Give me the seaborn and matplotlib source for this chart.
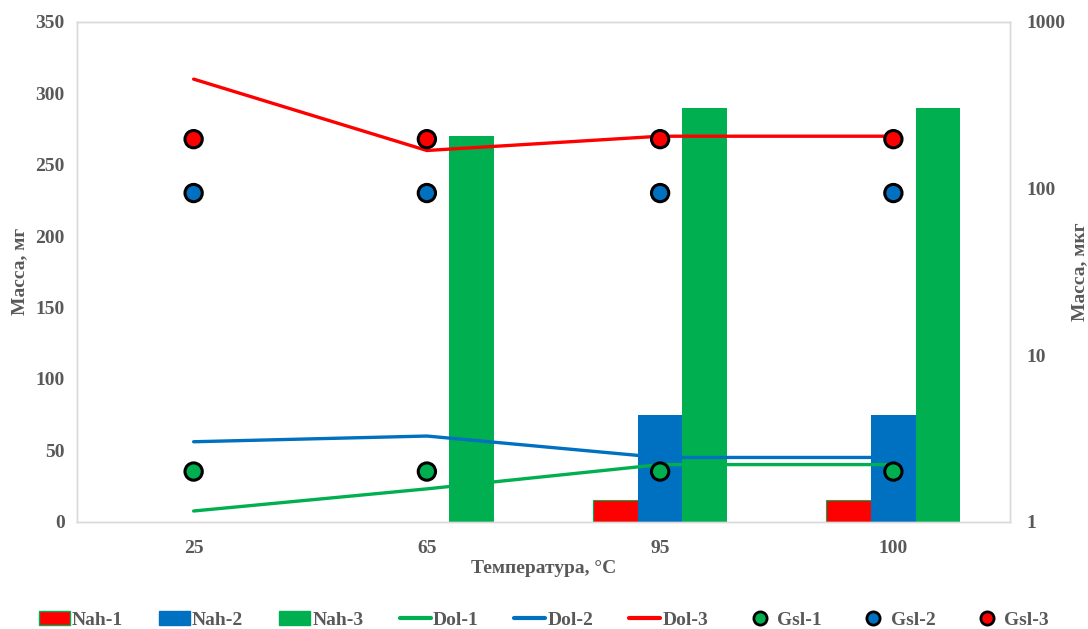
import numpy as np
import pandas as pd
import matplotlib
matplotlib.use("Agg")
import matplotlib.pyplot as plt
from matplotlib.patches import Patch
from matplotlib.lines import Line2D
import seaborn as sns

# ---- data ----
temps = ["25", "65", "95", "100"]
nah1 = [np.nan, np.nan, 15, 15]
nah2 = [np.nan, np.nan, 75, 75]
nah3 = [np.nan, 270, 290, 290]
dol1 = [7.5, 23, 40, 40]
dol2 = [56, 60, 45, 45]
dol3 = [310, 260, 270, 270]
gsl1 = [2, 2, 2, 2]
gsl2 = [94, 94, 94, 94]
gsl3 = [198, 198, 198, 198]

bar_names = ["Nah-1", "Nah-2", "Nah-3"]
line_names = ["Dol-1", "Dol-2", "Dol-3"]
pt_names = ["Gsl-1", "Gsl-2", "Gsl-3"]
colors = ["#00B050", "#0070C0", "#FF0000"]  # green, blue, red
bar_colors = ["#FF0000", "#0070C0", "#00B050"]

GRAY = "#595959"
SPINE = "#D9D9D9"
FS = 14

sns.set_style("white")
plt.rcParams["font.family"] = ["Liberation Serif", "DejaVu Serif"]
plt.rcParams["font.weight"] = "bold"

pos = np.arange(len(temps))
bars = pd.DataFrame({
    "T": temps * 3,
    "series": [n for n in bar_names for _ in temps],
    "val": nah1 + nah2 + nah3,
}).dropna()
lines = pd.DataFrame({
    "x": list(pos) * 3,
    "series": [n for n in line_names for _ in temps],
    "val": dol1 + dol2 + dol3,
})
pts = pd.DataFrame({
    "x": list(pos) * 3,
    "series": [n for n in pt_names for _ in temps],
    "val": gsl1 + gsl2 + gsl3,
})

fig = plt.figure(figsize=(10.88, 6.29), dpi=100)
ax = fig.add_axes([77 / 1088, 1 - 521.7 / 629, (1010 - 77) / 1088, (521.7 - 22) / 629])

sns.barplot(data=bars, x="T", y="val", hue="series", order=temps, hue_order=bar_names,
            palette=bar_colors, width=0.575, gap=0, ax=ax, legend=False,
            saturation=1, linewidth=0, zorder=2)
# green edge of Nah-1 bars
for p in ax.patches:
    if np.isclose(p.get_height(), 15):
        p.set_edgecolor("#00B050")
        p.set_linewidth(0.8)

sns.lineplot(data=lines, x="x", y="val", hue="series", hue_order=line_names,
             palette=colors, linewidth=2.4, ax=ax, legend=False, zorder=3)

ax.set_xlim(-0.5, len(temps) - 0.5)
ax.set_ylim(0, 350)
ax.set_yticks(np.arange(0, 351, 50))
ax.set_xticks(pos)
ax.set_xticklabels(temps)
ax.tick_params(axis="x", length=0, labelsize=FS, labelcolor=GRAY, pad=13)
ax.tick_params(axis="y", length=0, labelsize=FS, labelcolor=GRAY, pad=9)
for lab in ax.get_xticklabels() + ax.get_yticklabels():
    lab.set_fontweight("bold")
ax.set_xlabel("Температура, °C", fontsize=FS, color=GRAY, fontweight="bold", labelpad=2)
ax.set_ylabel("Масса, мг", fontsize=FS, color=GRAY, fontweight="bold", labelpad=5)
for s in ax.spines.values():
    s.set_color(SPINE)
    s.set_linewidth(1)

ax2 = ax.twinx()
sns.scatterplot(data=pts, x="x", y="val", hue="series", hue_order=pt_names,
                palette=colors, s=155, edgecolor="black", linewidth=2.2,
                ax=ax2, legend=False, zorder=4)
ax2.set_yscale("log")
ax2.set_ylim(1, 1000)
ax2.set_yticks([1, 10, 100, 1000])
ax2.set_yticklabels(["1", "10", "100", "1000"])
ax2.minorticks_off()
ax2.tick_params(axis="y", length=0, labelsize=FS, labelcolor=GRAY, pad=12)
for lab in ax2.get_yticklabels():
    lab.set_fontweight("bold")
ax2.set_ylabel("Масса, мкг", fontsize=FS, color=GRAY, fontweight="bold", labelpad=4)
ax2.set_xlabel("")
for s in ax2.spines.values():
    s.set_color(SPINE)
    s.set_linewidth(1)
ax.set_xlim(-0.5, len(temps) - 0.5)

# legend
handles = []
for n, c in zip(bar_names, bar_colors):
    ec = "#00B050" if n == "Nah-1" else c
    handles.append(Patch(facecolor=c, edgecolor=ec, linewidth=1, label=n))
for n, c in zip(line_names, colors):
    handles.append(Line2D([0], [0], color=c, linewidth=3, label=n))
for n, c in zip(pt_names, colors):
    handles.append(Line2D([0], [0], marker="o", linestyle="none", markersize=9.5,
                          markerfacecolor=c, markeredgecolor="black", markeredgewidth=2, label=n))
leg = fig.legend(handles=handles, loc="center", bbox_to_anchor=(0.5, 1 - 620 / 629), ncol=9,
                 frameon=False, fontsize=FS, handlelength=1.6, handleheight=0.7,
                 handletextpad=0.1, columnspacing=1.85, borderaxespad=0, borderpad=0)
for t in leg.get_texts():
    t.set_color(GRAY)
    t.set_fontweight("bold")

fig.savefig("out.png", dpi=100)
